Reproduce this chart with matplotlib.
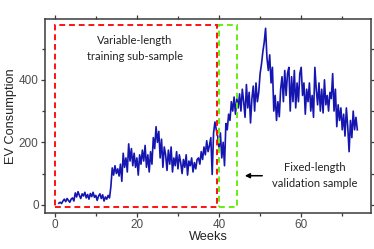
import numpy as np
import matplotlib
matplotlib.use("Agg")
import matplotlib.pyplot as plt
from matplotlib.patches import Rectangle
from matplotlib.ticker import MultipleLocator

# EV consumption, 3 readings per week starting at week 1
consumption = [
    5, 8, 4, 12, 18, 10, 20, 14, 8, 18, 22, 12,            # weeks 1-4
    38, 25, 42, 30, 20, 35, 28, 40, 22, 33, 18, 36,        # weeks 5-8
    26, 40, 24, 30, 14, 28, 35, 20, 32, 12, 25, 18,        # weeks 9-12
    30, 22, 58, 118, 95, 125, 100, 115, 92, 130, 75, 165,  # weeks 13-16
    120, 150, 105, 195, 140, 180, 125, 165, 120, 150, 95, 160,   # 17-20
    130, 175, 140, 190, 120, 160, 105, 170, 130, 215, 180, 250,  # 21-24
    200, 235, 150, 210, 120, 185, 160, 110, 175, 130, 185, 105,  # 25-28
    150, 125, 170, 115, 160, 135, 100, 145, 120, 160, 95, 140,   # 29-32
    125, 150, 105, 135, 115, 145, 150, 130, 170, 145, 185, 160,  # 33-36
    205, 170, 190, 215, 97, 230, 265, 240, 220, 180, 230, 150,   # 37-40
    200, 125, 260, 240, 290, 270, 330, 300, 345, 290, 340, 310,  # 41-44
    355, 300, 370, 330, 280, 385, 310, 360, 262, 340, 380, 300,  # 45-48
    390, 330, 360, 420, 450, 490, 520, 565, 470, 430, 480, 390,  # 49-52
    440, 300, 350, 270, 330, 282, 370, 410, 330, 430, 350, 420,  # 53-56
    440, 300, 410, 330, 430, 310, 390, 330, 420, 440, 350, 390,  # 57-60
    290, 370, 330, 390, 300, 350, 280, 440, 370, 320, 390, 300,  # 61-64
    370, 294, 400, 320, 350, 300, 360, 340, 420, 300, 370, 250,  # 65-68
    320, 270, 310, 240, 290, 220, 310, 250, 170, 270, 215, 300,  # 69-72
    240, 280, 240,                                               # 73
]
weeks = 1 + np.arange(len(consumption)) / 3

train_end = 39.6
valid_start, valid_end = 40.0, 44.4
box_bottom, box_top = -6, 577

plt.rcParams["font.family"] = "Liberation Sans"

fig = plt.figure(figsize=(3.74, 2.49), dpi=100)
ax = fig.add_axes([0.120, 0.145, 0.872, 0.779])

ax.plot(weeks, consumption, color="#1515b0", lw=1.2, zorder=3)

ax.add_patch(Rectangle((0, box_bottom), train_end, box_top - box_bottom,
                       fill=False, edgecolor="#ff1010", lw=1.4, ls=(0, (3, 2)),
                       zorder=4))
ax.add_patch(Rectangle((valid_start, box_bottom), valid_end - valid_start,
                       box_top - box_bottom, fill=False, edgecolor="#66ee11",
                       lw=1.4, ls=(0, (3, 2)), zorder=4))

ax.text(19.5, 501, "Variable-length\ntraining sub-sample", ha="center",
        va="center", fontsize=8, family="Lato", linespacing=1.6, color="#222222")
ax.text(63.2, 93, "Fixed-length\nvalidation sample", ha="center",
        va="center", fontsize=8, family="Lato", linespacing=1.6, color="#222222")
ax.annotate("", xy=(45.6, 93), xytext=(51.2, 93),
            arrowprops=dict(arrowstyle="-|>", color="black", lw=1.1,
                            mutation_scale=7))

ax.set_xlim(-2.4, 77)
ax.set_ylim(-26, 595)
ax.xaxis.set_major_locator(MultipleLocator(20))
ax.xaxis.set_minor_locator(MultipleLocator(10))
ax.yaxis.set_major_locator(MultipleLocator(200))
ax.yaxis.set_minor_locator(MultipleLocator(100))

for s in ax.spines.values():
    s.set_color("#3a3a3a")
    s.set_linewidth(1.1)
ax.tick_params(which="both", direction="out", color="#3a3a3a", width=0.9,
               labelsize=8.5, labelcolor="#4d4d4d", pad=1.5,
               top=True, right=True)
ax.tick_params(which="major", length=3)
ax.tick_params(which="minor", length=2)

ax.set_xlabel("Weeks", fontsize=9.2, labelpad=0, color="#222222")
ax.set_ylabel("EV Consumption", fontsize=9.2, labelpad=1, color="#222222")

fig.savefig("out.png", dpi=100)
